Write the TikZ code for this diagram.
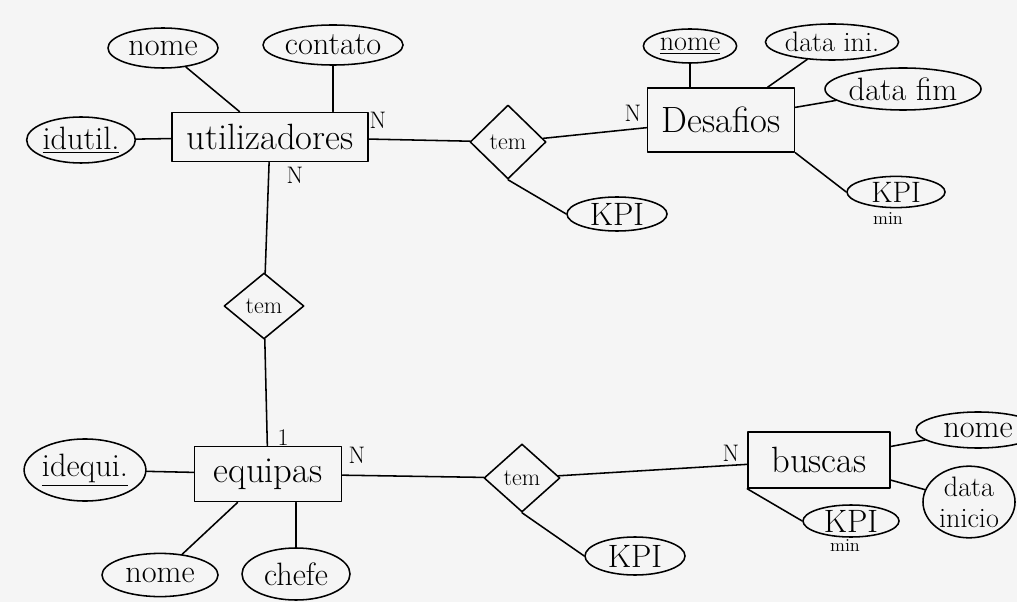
\documentclass[tikz,border=0pt]{standalone}
\usepackage{fontspec}
\usetikzlibrary{shapes.geometric}
\begin{document}
\begin{tikzpicture}[x=0.025cm, y=-0.025cm, font=\fontsize{23}{27}\selectfont, line join=round, line cap=round, line width=1.1pt,
	entity/.style={draw, rectangle, inner sep=2pt, font=\fontsize{26}{30}\selectfont},
	attr/.style={draw, ellipse, inner sep=0pt},
	rel/.style={draw, diamond, inner sep=0pt, font=\fontsize{17}{20}\selectfont},
	card/.style={font=\fontsize{17}{20}\selectfont}]
	\fill[black!4] (0,0) rectangle (1017,602);
	\useasboundingbox (0,0) rectangle (1017,602);
	% entidades
	\node[entity, minimum width=4.9cm, minimum height=1.23cm] (util) at (270,137) {utilizadores};
	\node[entity, minimum width=3.68cm, minimum height=1.6cm] (desaf) at (721,120) {Desafios};
	\node[entity, minimum width=3.68cm, minimum height=1.38cm] (equip) at (268,474) {equipas};
	\node[entity, minimum width=3.55cm, minimum height=1.4cm] (busc) at (819,460) {buscas};
	% relacoes
	\node[rel, minimum width=1.9cm, minimum height=1.85cm] (temD) at (508,142) {tem};
	\node[rel, minimum width=2cm, minimum height=1.65cm] (temE) at (264,306) {tem};
	\node[rel, minimum width=1.9cm, minimum height=1.7cm] (temB) at (522,478) {tem};
	% atributos
	\node[attr, minimum width=2.75cm, minimum height=1cm] (nomeU) at (163,48) {nome};
	\node[attr, minimum width=3.5cm, minimum height=1cm] (contato) at (333,45) {contato};
	\node[attr, minimum width=2.55cm, minimum height=1.15cm] (idutil) at (81,140) {\underline{idutil.}};
	\node[attr, minimum width=2.33cm, minimum height=0.85cm, font=\fontsize{20}{24}\selectfont] (nomeD) at (690,46) {\underline{nome}};
	\node[attr, minimum width=2.9cm, minimum height=0.9cm, font=\fontsize{20}{24}\selectfont] (dataini) at (832,42) {data ini.};
	\node[attr, minimum width=3.9cm, minimum height=1.05cm] (datafim) at (903,89) {data fim};
	\node[attr, minimum width=2.45cm, minimum height=0.78cm, font=\fontsize{21}{24}\selectfont] (kpiD) at (896,192) {KPI};
	\node[attr, minimum width=2.5cm, minimum height=0.85cm] (kpiT) at (617,214) {KPI};
	\node[attr, minimum width=2.75cm, minimum height=1.55cm] (idequi) at (85,470) {\underline{idequi.}};
	\node[attr, minimum width=2.9cm, minimum height=1.08cm] (nomeE) at (160,575) {nome};
	\node[attr, minimum width=2.7cm, minimum height=1.3cm] (chefe) at (296,574) {chefe};
	\node[attr, minimum width=3.1cm, minimum height=0.9cm] (nomeB) at (978,430) {nome};
	\node[attr, minimum width=2.3cm, minimum height=1.73cm, align=center, font=\fontsize{20}{22}\selectfont] (datainic) at (969,502) {data\\inicio};
	\node[attr, minimum width=2.4cm, minimum height=0.8cm] (kpiB) at (851,521) {KPI};
	\node[attr, minimum width=2.5cm, minimum height=0.95cm] (kpiR) at (635,556) {KPI};
	\node[font=\fontsize{13}{15}\selectfont] (minD) at (888,219) {min};
	\node[font=\fontsize{13}{15}\selectfont] (minB) at (845,546) {min};
	% cardinalidades
	\foreach \n/\x/\y/\t in {c1/378/120/N, c2/295/175/N, c3/633/113/N, c4/283/438/1, c5/357/455/N, c6/731/453/N}
	\node[card] (\n) at (\x,\y) {\t};
	\foreach \a/\b in {util/temD, temD/desaf, util/temE, temE/equip, equip/temB, temB/busc,
		nomeU/util, idutil/util, dataini/desaf, datafim/desaf, idequi/equip, nomeE/equip, nomeB/busc, datainic/busc}
	\draw (\a) -- (\b);
	\draw (contato.south) -- (contato.south |- util.north)
		(nomeD.south) -- (nomeD.south |- desaf.north)
		(chefe.north) -- (chefe.north |- equip.south)
		(desaf.south east) -- (kpiD.west)
		(temD.south) -- (kpiT.west)
		(temB.south) -- (kpiR.west)
		(busc.south west) -- (kpiB.west);
\end{tikzpicture}
\end{document}
